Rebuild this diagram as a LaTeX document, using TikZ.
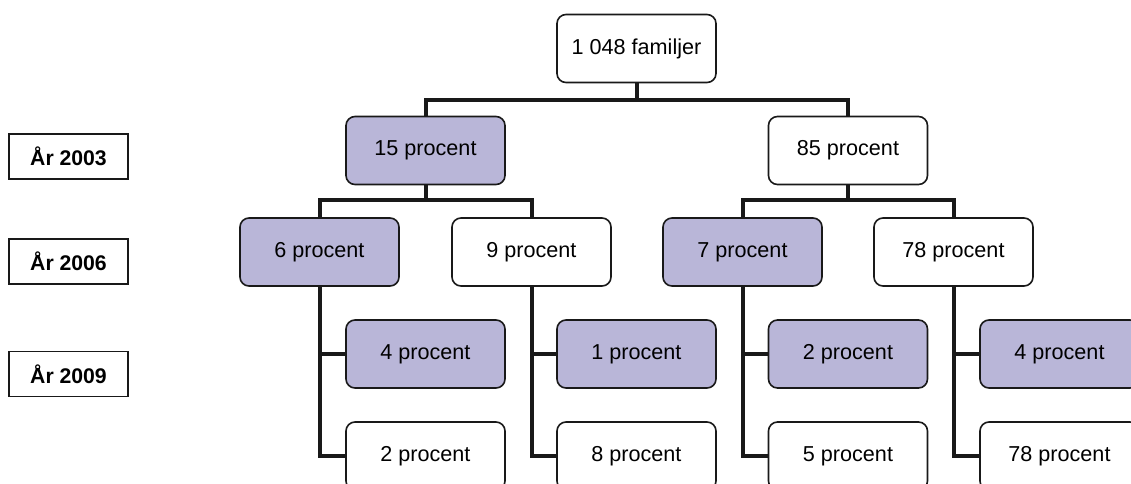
\documentclass[tikz,border=0pt]{standalone}
\usepackage{fontspec}
\setmainfont{Liberation Sans}
\definecolor{lila}{RGB}{185,182,216}
\begin{document}
\begin{tikzpicture}[x=0.5pt, y=-0.5pt,
        box/.style={draw=black!90, line width=0.8pt, rounded corners=4.5pt, minimum width=79.5pt, minimum height=34pt, inner sep=0pt, font=\fontsize{10.8}{13}\selectfont},
        hit/.style={box, fill=lila},
        miss/.style={box, fill=white},
        year/.style={draw=black!90, line width=0.8pt, minimum width=59.5pt, minimum height=22.5pt, inner sep=0pt, font=\fontsize{10.6}{13}\selectfont\bfseries},
        conn/.style={line width=2pt, draw=black!90}]
        \useasboundingbox (0,0) rectangle (1131,483);

        \node[year] (y03) at (68.5,156.5) {År 2003};
        \node[year] (y06) at (68.5,261.5) {År 2006};
        \node[year] (y09) at (68.5,374) {År 2009};

        \node[miss] (root) at (636.5,48.5) {1 048 familjer};

        \node[hit] (p15) at (425.5,150.5) {15 procent};
        \node[miss] (p85) at (848,150.5) {85 procent};

        \node[hit] (p6) at (319.5,252) {6 procent};
        \node[miss] (p9) at (531.5,252) {9 procent};
        \node[hit] (p7) at (742.5,252) {7 procent};
        \node[miss] (p78) at (953.5,252) {78 procent};

        \node[hit] (p6a) at (425.5,354) {4 procent};
        \node[miss] (p6b) at (425.5,456) {2 procent};
        \node[hit] (p9a) at (636.5,354) {1 procent};
        \node[miss] (p9b) at (636.5,456) {8 procent};
        \node[hit] (p7a) at (848,354) {2 procent};
        \node[miss] (p7b) at (848,456) {5 procent};
        \node[hit] (p78a) at (1059.5,354) {4 procent};
        \node[miss] (p78b) at (1059.5,456) {78 procent};

        \coordinate (b0) at (636.5,100);
        \coordinate (b15) at (425.5,200);
        \coordinate (b85) at (848,200);

        \draw[conn] (root.south) -- (b0);
        \draw[conn] (p15.north) |- (b0) -| (p85.north);
        \draw[conn] (p15.south) -- (b15);
        \draw[conn] (p6.north) |- (b15) -| (p9.north);
        \draw[conn] (p85.south) -- (b85);
        \draw[conn] (p7.north) |- (b85) -| (p78.north);

        \draw[conn] (p6.south) |- (p6a.west);
        \draw[conn] (p6.south) |- (p6b.west);
        \draw[conn] (p9.south) |- (p9a.west);
        \draw[conn] (p9.south) |- (p9b.west);
        \draw[conn] (p7.south) |- (p7a.west);
        \draw[conn] (p7.south) |- (p7b.west);
        \draw[conn] (p78.south) |- (p78a.west);
        \draw[conn] (p78.south) |- (p78b.west);
    \end{tikzpicture}
\end{document}
